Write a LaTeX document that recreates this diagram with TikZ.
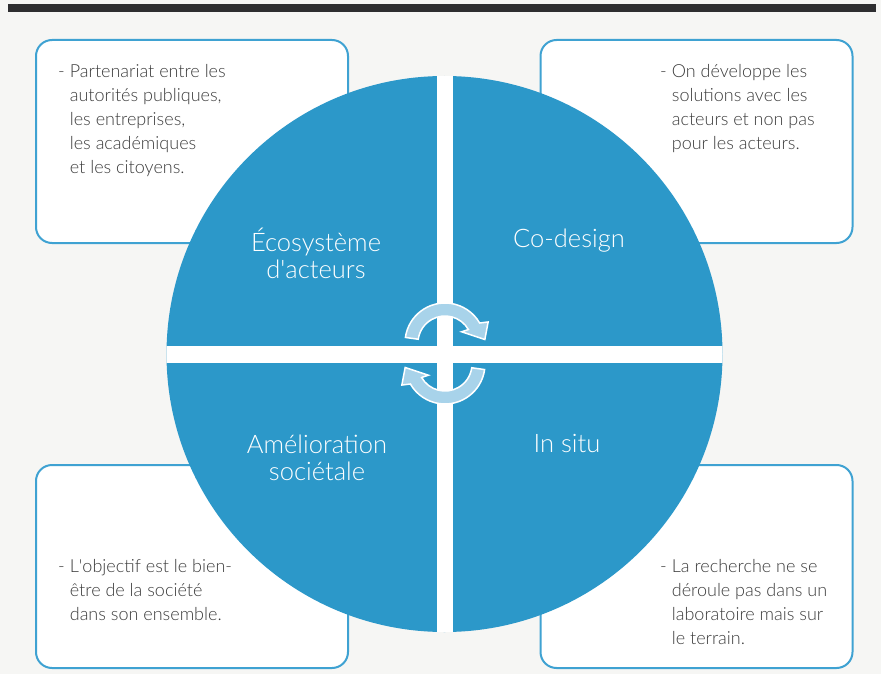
\documentclass[tikz,border=0pt]{standalone}
\usepackage{fontspec}
\setmainfont{Lato Light}
\definecolor{paper}{HTML}{F6F6F4}
\definecolor{barblack}{HTML}{2E2E30}
\definecolor{boxblue}{HTML}{3FA2D2}
\definecolor{quadblue}{HTML}{2C98C9}
\definecolor{arrowblue}{HTML}{A8D3EA}
\definecolor{textgray}{HTML}{3C3C3C}
\begin{document}
\begin{tikzpicture}[x=1pt,y=-1pt,
  infobox/.style={draw=boxblue, line width=2pt, fill=white, rounded corners=16pt,
    minimum width=312pt, minimum height=203pt, inner sep=0pt},
  infotext/.style={anchor=base west, inner sep=0pt, text=textgray,
    font=\fontsize{18}{24}\selectfont},
  quadlabel/.style={anchor=base, inner sep=0pt, text=white,
    font=\fontsize{25.5}{27.5}\selectfont},
  cyclearrow/.style={fill=arrowblue, draw=white, line width=1.5pt, line join=miter}]
\fill[paper] (0,0) rectangle (881,674);
\useasboundingbox (0,0) rectangle (881,674);
\fill[barblack] (8,4) rectangle (876,12);

% boxes
\node[infobox] (boxtl) at (192,141.5) {};
\node[infobox] (boxtr) at (696.5,141.5) {};
\node[infobox] (boxbl) at (192,566.5) {};
\node[infobox] (boxbr) at (696.5,566.5) {};

% circle in four quarters
\begin{scope}
  \clip (444.5,354) circle (278);
  \fill[quadblue] (160,70) rectangle (730,640);
  \fill[white] (436.5,70) rectangle (452.5,640);
  \fill[white] (160,345.5) rectangle (730,362.5);
\end{scope}

% cycle arrows
\begin{scope}[shift={(445,343)}]
  \path[cyclearrow] (-172:27) -- (-172:40) arc[start angle=-172, end angle=-30, radius=40]
    -- (-26:48) -- (-5:40) -- (-34:20) -- (-30:27)
    arc[start angle=-30, end angle=-172, radius=27] -- cycle;
\end{scope}
\begin{scope}[shift={(445,364)}, rotate=180]
  \path[cyclearrow] (-172:27) -- (-172:40) arc[start angle=-172, end angle=-30, radius=40]
    -- (-26:48) -- (-5:40) -- (-34:20) -- (-30:27)
    arc[start angle=-30, end angle=-172, radius=27] -- cycle;
\end{scope}

% quadrant labels
\node[quadlabel] (lbleco) at (316,251) {\begin{tabular}[t]{@{}c@{}}Écosystème\\d\textquotesingle acteurs\end{tabular}};
\node[quadlabel] (lblcod) at (569,247) {Co-design};
\node[quadlabel] (lblame) at (317,453) {\begin{tabular}[t]{@{}c@{}}Amélioration\\sociétale\end{tabular}};
\node[quadlabel] (lblins) at (567,452) {In situ};

% box texts
\node[infotext] (txttl) at (58,78) {\begin{tabular}[t]{@{}l@{\hspace{5pt}}l@{}}
  -& Partenariat entre les\\ & autorités publiques,\\ & les entreprises,\\ & les académiques\\ & et les citoyens.\end{tabular}};
\node[infotext] (txttr) at (660,78) {\begin{tabular}[t]{@{}l@{\hspace{5pt}}l@{}}
  -& On développe les\\ & solutions avec les\\ & acteurs et non pas\\ & pour les acteurs.\end{tabular}};
\node[infotext] (txtbl) at (58,572) {\begin{tabular}[t]{@{}l@{\hspace{5pt}}l@{}}
  -& L\textquotesingle objectif est le bien-\\ & être de la société\\ & dans son ensemble.\end{tabular}};
\node[infotext] (txtbr) at (660,572) {\begin{tabular}[t]{@{}l@{\hspace{5pt}}l@{}}
  -& La recherche ne se\\ & déroule pas dans un\\ & laboratoire mais sur\\ & le terrain.\end{tabular}};
\end{tikzpicture}
\end{document}
